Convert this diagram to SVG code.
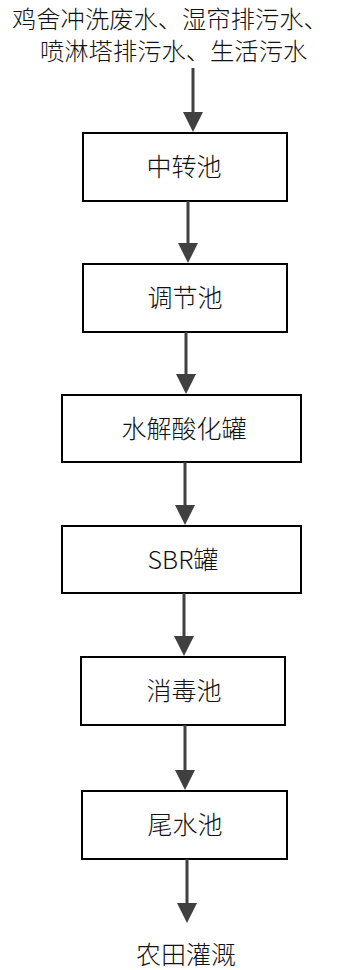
<svg xmlns="http://www.w3.org/2000/svg" xmlns:xlink="http://www.w3.org/1999/xlink" width="346" height="970" viewBox="0 0 346 970">
<style>
.box{fill:#fff;stroke:#000;stroke-width:2}
.lbl{font-family:"Noto Sans CJK SC","Noto Sans",sans-serif;font-size:25px;fill:#111;text-anchor:middle;font-weight:300}
.ln{stroke:#404040;stroke-width:3;fill:none}
.ah{fill:#404040}
</style>
<defs>
<path id="ah" d="M-10,-20 L10,-20 L0,0 Z"/>
</defs>
<rect width="346" height="970" fill="#fff"/>
<g id="source">
<text class="lbl" x="12" y="28" style="text-anchor:start;font-size:24.3px">鸡舍冲洗废水、湿帘排污水、</text>
<text class="lbl" x="40" y="60" style="text-anchor:start;font-size:24.3px">喷淋塔排污水、生活污水</text>
</g>
<g id="n1"><rect class="box" x="83" y="133" width="204" height="68"/><text class="lbl" x="184" y="176">中转池</text></g>
<g id="n2"><rect class="box" x="83" y="264" width="204" height="68"/><text class="lbl" x="185" y="307">调节池</text></g>
<g id="n3"><rect class="box" x="62" y="395" width="239" height="67"/><text class="lbl" x="184" y="438">水解酸化罐</text></g>
<g id="n4"><rect class="box" x="62" y="526" width="239" height="67"/><text class="lbl" x="183" y="569">SBR罐</text></g>
<g id="n5"><rect class="box" x="81" y="657" width="204" height="68"/><text class="lbl" x="184" y="700">消毒池</text></g>
<g id="n6"><rect class="box" x="82" y="791" width="205" height="68"/><text class="lbl" x="185" y="834">尾水池</text></g>
<g id="sink"><text class="lbl" x="186" y="964" style="font-size:25px">农田灌溉</text></g>
<g id="connectors">
<line class="ln" x1="193" y1="68" x2="193" y2="116"/><use href="#ah" class="ah" x="193" y="132"/>
<line class="ln" x1="188" y1="201" x2="188" y2="247"/><use href="#ah" class="ah" x="188" y="263"/>
<line class="ln" x1="186" y1="332" x2="186" y2="378"/><use href="#ah" class="ah" x="186" y="394"/>
<line class="ln" x1="185" y1="462" x2="185" y2="509"/><use href="#ah" class="ah" x="185" y="525"/>
<line class="ln" x1="184" y1="593" x2="184" y2="640"/><use href="#ah" class="ah" x="184" y="656"/>
<line class="ln" x1="185" y1="725" x2="185" y2="774"/><use href="#ah" class="ah" x="185" y="790"/>
<line class="ln" x1="187" y1="859" x2="187" y2="907"/><use href="#ah" class="ah" x="187" y="923"/>
</g>
</svg>
